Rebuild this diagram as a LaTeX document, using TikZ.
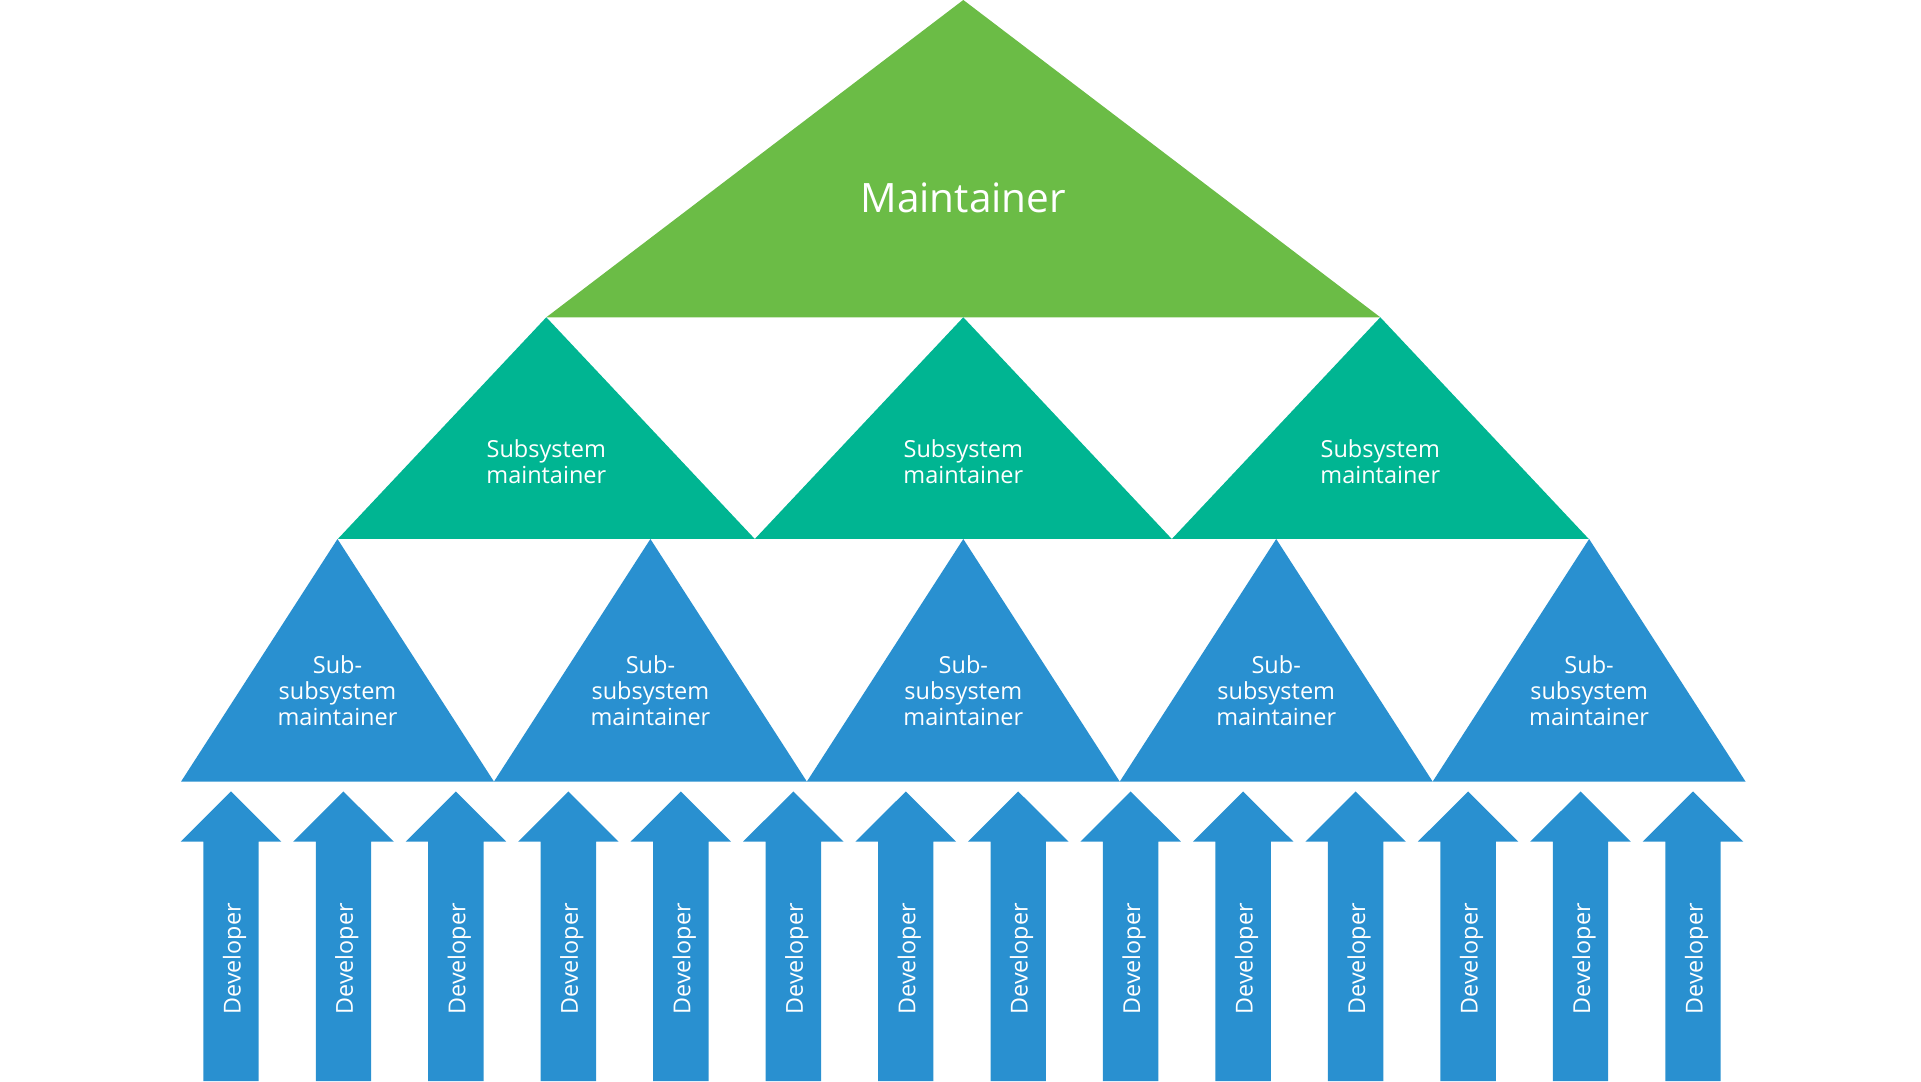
\documentclass[tikz,border=0pt]{standalone}
\usepackage{fontspec}
\setmainfont{Open Sans}
\definecolor{cgreen}{HTML}{6BBC46}
\definecolor{cteal}{HTML}{00B592}
\definecolor{cblue}{HTML}{2990D0}
\begin{document}
\begin{tikzpicture}[x=1pt,y=1pt,
  lbl/.style={text=white, inner sep=0pt, align=center},
  sublbl/.style={lbl, font=\fontsize{23.5}{25.8}\selectfont, anchor=south},
  devlbl/.style={text=white, inner sep=0pt, font=\fontsize{23.3}{26}\selectfont, rotate=90, anchor=base}]
\useasboundingbox (0,0) rectangle (1921,1081);
% top level
\coordinate (mA) at (963.3,1081);
\coordinate (mL) at (546.3,763.7);
\coordinate (mR) at (1380.3,763.7);
\fill[cgreen] (mA) -- (mL) -- (mR) -- cycle;
\node[lbl, font=\fontsize{40.5}{48}\selectfont, anchor=base] (maint) at (963.3,868.3) {Maintainer};
% subsystem level
\foreach \i/\cx in {1/546.3,2/963.3,3/1380.3}{
  \fill[cteal] (\cx,763.7) -- (\cx-208.5,542) -- (\cx+208.5,542) -- cycle;
  \node[sublbl] (sub\i) at (\cx,597.2) {Subsystem\\maintainer};
}
% sub-subsystem level
\foreach \i/\cx in {1/337.5,2/650.4,3/963.3,4/1276.2,5/1589.1}{
  \fill[cblue] (\cx,542) -- (\cx-156.45,299.4) -- (\cx+156.45,299.4) -- cycle;
  \node[sublbl] (subsub\i) at (\cx,355.5) {Sub-\\subsystem\\maintainer};
}
% developer arrows
\foreach \i in {0,...,13}{
  \pgfmathsetmacro{\cx}{231+112.46*\i}
  \fill[cblue] (\cx,289.5) -- (\cx+50.3,239.3) -- (\cx+27.7,239.3) -- (\cx+27.7,0)
     -- (\cx-27.7,0) -- (\cx-27.7,239.3) -- (\cx-50.3,239.3) -- cycle;
  \node[devlbl] (dev\i) at (\cx+9.5,122) {Developer};
}
\end{tikzpicture}
\end{document}
